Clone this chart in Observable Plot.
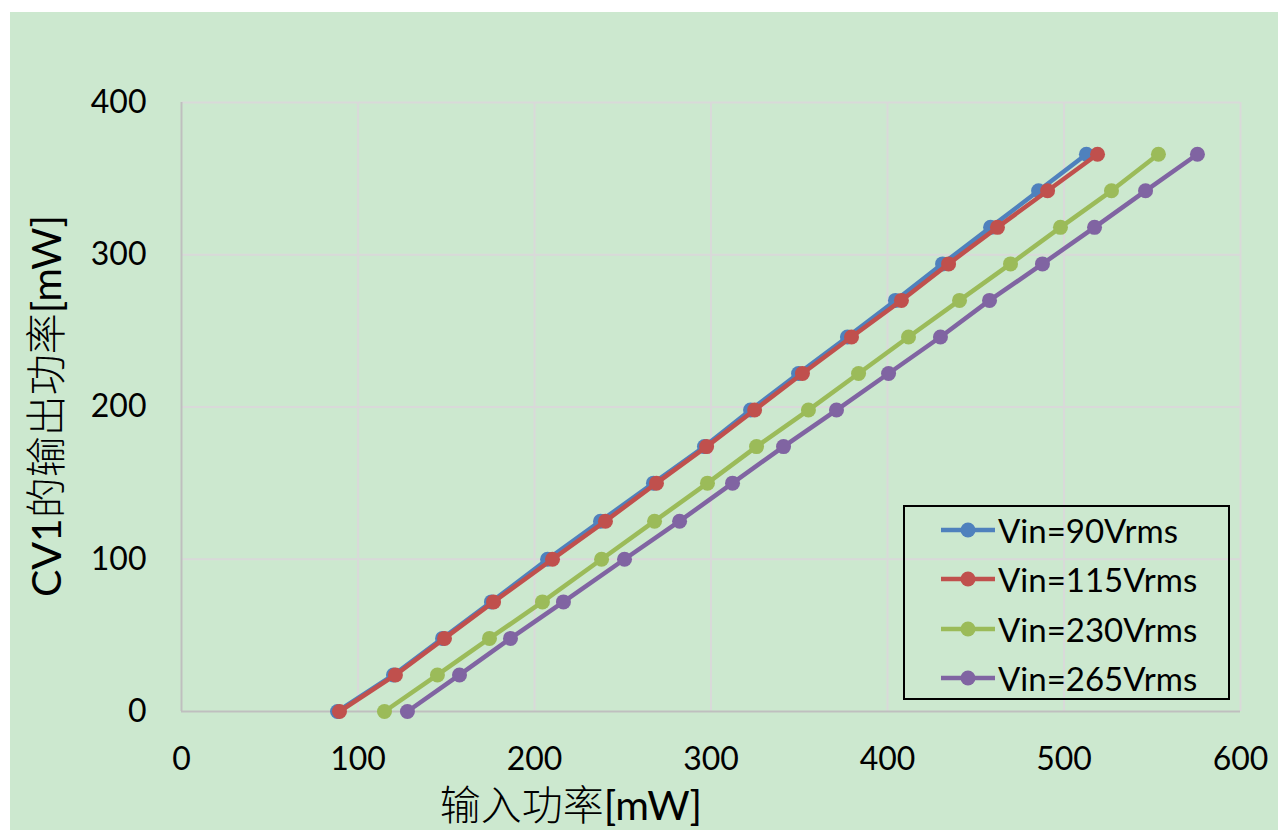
<!DOCTYPE html>
<html>
<head>
<meta charset="utf-8">
<script src="https://cdn.jsdelivr.net/npm/d3@7"></script>
<script src="https://cdn.jsdelivr.net/npm/@observablehq/plot@0.6"></script>
<style>
  html, body { margin: 0; padding: 0; background: #ffffff; width: 1278px; height: 830px; overflow: hidden; }
  #wrap { position: absolute; left: 10px; top: 12px; width: 1268px; height: 818px; background: #cce8cf; }
  #chart { position: absolute; left: 0; top: 0; }
  .title { position: absolute; font-family: Lato, "Noto Sans CJK SC", sans-serif; font-size: 41px; font-weight: 400; color: #000; white-space: nowrap; line-height: 0.9; }
  .title span { display: inline-block; line-height: 0.9; }
  .title .cjk { font-family: "Noto Sans CJK SC", sans-serif; font-weight: 300; }
  #ytitle { left: 35px; top: 394px; transform: translate(-50%, -50%) rotate(-90deg); }
  #xtitle { left: 561px; top: 792px; transform: translate(-50%, -50%); }
  #legend { position: absolute; left: 893px; top: 493px; width: 327px; height: 195px; box-sizing: border-box; border: 2px solid #000; }
  .entry { position: absolute; left: 0; height: 40px; }
  .entry svg { position: absolute; left: 35px; top: 0; }
  .entry .lbl { position: absolute; left: 93px; top: 0; line-height: 40px; font-family: Lato, sans-serif; font-size: 33px; color: #000; white-space: nowrap; }
</style>
</head>
<body>
<div id="wrap">
  <div id="chart"></div>
  <div class="title" id="ytitle"><span>CV1</span><span class="cjk">的输出功率</span><span>[mW]</span></div>
  <div class="title" id="xtitle"><span class="cjk">输入功率</span><span>[mW]</span></div>
  <div id="legend"></div>
</div>
<script>
// Output power of CV1 [mW] (y values, shared by all series)
const outputPower = [0, 24, 48, 72, 100, 125, 150, 174, 198, 222, 246, 270, 294, 318, 342, 366];
// Input power [mW] for each input voltage
const vin90  = [88.4, 120.1, 147.9, 175.6, 207.4, 237.4, 267.4, 296.3, 322.4, 349.6, 377.3, 404.5, 431.2, 458.4, 485.6, 512.7];
const vin115 = [89.5, 121.2, 149.0, 176.8, 210.2, 240.2, 269.1, 297.5, 324.7, 351.8, 379.6, 407.9, 434.6, 462.3, 490.7, 519.0];
const vin230 = [115.0, 145.0, 174.5, 204.5, 238.0, 268.0, 298.0, 325.8, 355.2, 383.6, 411.9, 440.8, 469.7, 498.0, 526.9, 553.5];
const vin265 = [128.0, 157.5, 186.4, 216.4, 251.0, 282.2, 312.2, 341.1, 371.1, 400.6, 430.0, 457.8, 487.8, 517.3, 546.2, 575.6];

const seriesNames = ["Vin=90Vrms", "Vin=115Vrms", "Vin=230Vrms", "Vin=265Vrms"];
const seriesColors = ["#4f81bd", "#c0504d", "#9bbb59", "#8064a2"];
const seriesValues = [vin90, vin115, vin230, vin265];

const xTicks = [0, 100, 200, 300, 400, 500, 600];
const yTicks = [0, 100, 200, 300, 400];

const seriesMarks = seriesValues.flatMap((vals, i) => {
  const rows = vals.map((x, j) => ({x, y: outputPower[j]}));
  return [
    Plot.line(rows, {x: "x", y: "y", stroke: seriesColors[i], strokeWidth: 4.5}),
    Plot.dot(rows, {x: "x", y: "y", r: 7.5, fill: seriesColors[i], stroke: "none"})
  ];
});

const chart = Plot.plot({
  width: 1268,
  height: 818,
  marginLeft: 171,
  marginRight: 38,
  marginTop: 90,
  marginBottom: 119,
  style: {background: "transparent", fontFamily: "Lato, sans-serif", fontSize: "32px", color: "#000"},
  x: {domain: [0, 600]},
  y: {domain: [0, 400]},
  marks: [
    Plot.ruleX(xTicks.filter(d => d > 0), {stroke: "#d9d9d9", strokeWidth: 2}),
    Plot.ruleY(yTicks.filter(d => d > 0), {stroke: "#d9d9d9", strokeWidth: 2}),
    Plot.ruleX([0], {stroke: "#bfbfbf", strokeWidth: 2}),
    Plot.ruleY([0], {stroke: "#bfbfbf", strokeWidth: 2}),
    Plot.axisX({ticks: xTicks, tickSize: 0, tickPadding: 36, label: null, fill: "#000"}),
    Plot.axisY({ticks: yTicks, tickSize: 0, tickPadding: 35, label: null, fill: "#000"}),
    ...seriesMarks
  ]
});
document.getElementById("chart").appendChild(chart);

// Legend
const legend = document.getElementById("legend");
seriesNames.forEach((name, i) => {
  const e = document.createElement("div");
  e.className = "entry";
  e.style.top = (3 + i * 49.3) + "px";
  e.innerHTML = `<svg width="56" height="40"><line x1="1" y1="20" x2="55" y2="20" stroke="${seriesColors[i]}" stroke-width="4.5"/><circle cx="28" cy="20" r="7.5" fill="${seriesColors[i]}"/></svg><span class="lbl">${name}</span>`;
  legend.appendChild(e);
});
</script>
</body>
</html>
